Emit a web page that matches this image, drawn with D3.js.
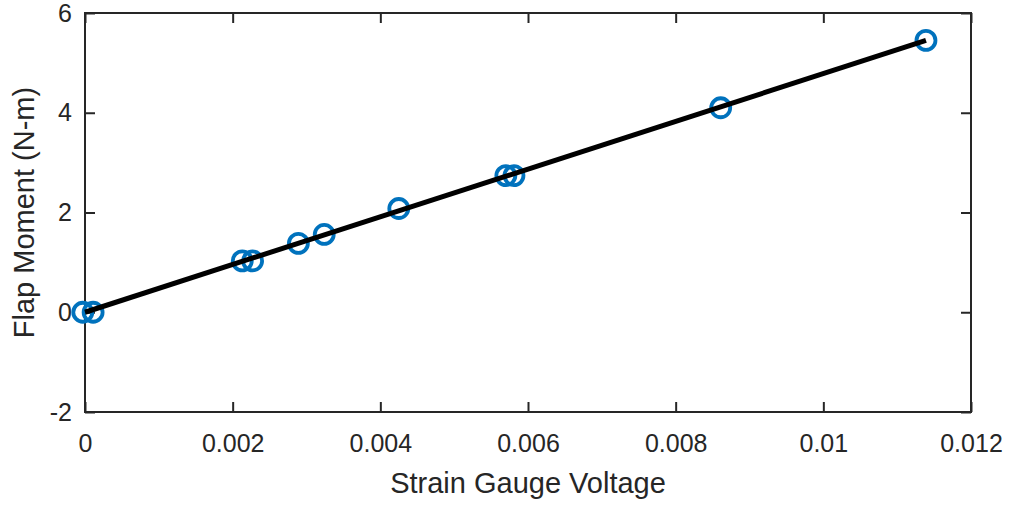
<!DOCTYPE html>
<html><head><meta charset="utf-8">
<script src="https://cdn.jsdelivr.net/npm/d3@7"></script>
<style>body{margin:0;background:#fff}svg{display:block}text{font-family:"Liberation Sans",Arial,sans-serif;fill:#262626}</style>
</head><body><svg id="c" width="1013" height="505"></svg>
<script>
const voltage = [-0.00003, 0.00011, 0.00213, 0.00227, 0.00289, 0.00324, 0.00425, 0.00570, 0.00581, 0.00861, 0.01139];
const moment  = [0, 0, 1.03, 1.03, 1.38, 1.56, 2.08, 2.74, 2.74, 4.10, 5.45];
const fitX = [0, 0.01139];
const fitY = [0, 5.45];
const xTicks = [0, 0.002, 0.004, 0.006, 0.008, 0.01, 0.012];
const xTickLabels = ["0", "0.002", "0.004", "0.006", "0.008", "0.01", "0.012"];
const yTicks = [-2, 0, 2, 4, 6];
const yTickLabels = ["-2", "0", "2", "4", "6"];
const xLabel = "Strain Gauge Voltage";
const yLabel = "Flap Moment (N-m)";

const L = 85, R = 971, T = 13, B = 412;
const svg = d3.select("#c");
const x = d3.scaleLinear().domain([0, 0.012]).range([L, R]);
const y = d3.scaleLinear().domain([-2, 6]).range([B, T]);
const axCol = "#262626", tl = 10, fs = 25;

function styleAxis(g){
  g.selectAll(".domain").remove();
  g.selectAll("line").attr("stroke", axCol).attr("stroke-width", 2);
  g.selectAll("text").attr("font-size", fs).attr("fill", axCol);
}
svg.append("g").attr("transform", `translate(0,${B})`)
  .call(d3.axisBottom(x).tickValues(xTicks).tickFormat((d,i)=>xTickLabels[i]).tickSizeInner(-tl).tickSizeOuter(0).tickPadding(22))
  .call(styleAxis);
svg.append("g").attr("transform", `translate(0,${T})`)
  .call(d3.axisTop(x).tickValues(xTicks).tickFormat("").tickSizeInner(-tl).tickSizeOuter(0))
  .call(styleAxis);
svg.append("g").attr("transform", `translate(${L},0)`)
  .call(d3.axisLeft(y).tickValues(yTicks).tickFormat((d,i)=>yTickLabels[i]).tickSizeInner(-tl).tickSizeOuter(0).tickPadding(13))
  .call(styleAxis);
svg.append("g").attr("transform", `translate(${R},0)`)
  .call(d3.axisRight(y).tickValues(yTicks).tickFormat("").tickSizeInner(-tl).tickSizeOuter(0))
  .call(styleAxis);
svg.append("rect").attr("x", L).attr("y", T).attr("width", R-L).attr("height", B-T)
  .attr("fill","none").attr("stroke", axCol).attr("stroke-width", 2);

const pts = voltage.map((v,i)=>[v, moment[i]]);
svg.append("g").selectAll("circle").data(pts).join("circle")
  .attr("cx", d=>x(d[0])).attr("cy", d=>y(d[1])).attr("r", 9.5)
  .attr("fill","none").attr("stroke","#0072BD").attr("stroke-width",3.8);

svg.append("path").datum(fitX.map((v,i)=>[v, fitY[i]]))
  .attr("d", d3.line().x(d=>x(d[0])).y(d=>y(d[1])))
  .attr("stroke","#000").attr("stroke-width",5).attr("fill","none");

svg.append("text").attr("x", 528).attr("y", 493).attr("text-anchor","middle")
  .attr("font-size", 29).text(xLabel);
svg.append("text").attr("transform", `translate(34,${(T+B)/2}) rotate(-90)`).attr("text-anchor","middle")
  .attr("font-size", 29).text(yLabel);
</script></body></html>
